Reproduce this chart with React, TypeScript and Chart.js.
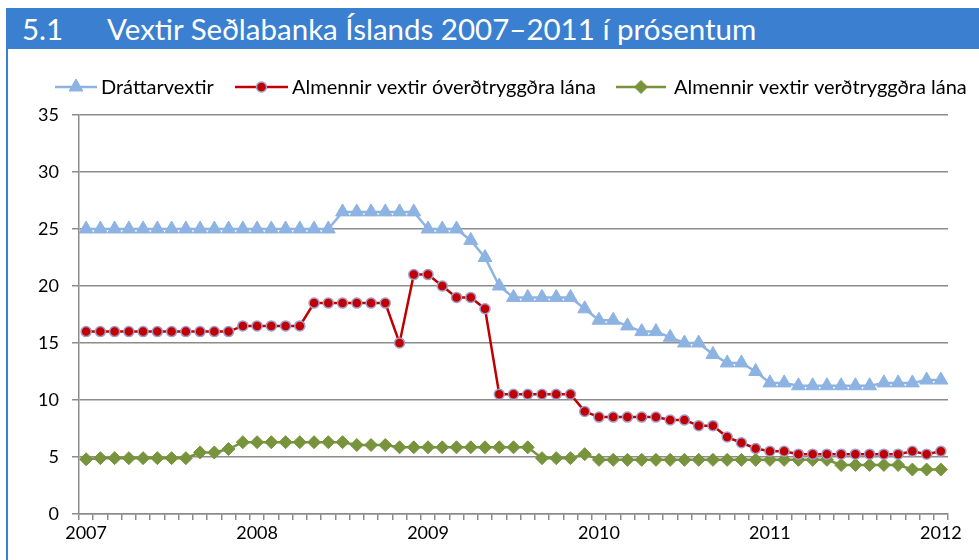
import React, { useEffect, useRef } from 'react';
import { Chart, registerables } from 'chart.js';
import { drawPoint } from 'chart.js/helpers';

Chart.register(...registerables);

// ---- Data ----
const YEARS = [2007, 2008, 2009, 2010, 2011];
const MONTHS: string[] = [];
YEARS.forEach((y) => {
  for (let m = 1; m <= 12; m++) MONTHS.push(`${y}-${String(m).padStart(2, '0')}`);
});
MONTHS.push('2012-01');

const TITLE_NUM = '5.1';
const TITLE_TEXT = 'Vextir Seðlabanka Íslands 2007–2011 í prósentum';

const SERIES_NAMES = [
  'Dráttarvextir',
  'Almennir vextir óverðtryggðra lána',
  'Almennir vextir verðtryggðra lána',
];

const drattarvextir = [
  25, 25, 25, 25, 25, 25, 25, 25, 25, 25, 25, 25,
  25, 25, 25, 25, 25, 25, 26.5, 26.5, 26.5, 26.5, 26.5, 26.5,
  25, 25, 25, 24, 22.5, 20, 19, 19, 19, 19, 19, 18,
  17, 17, 16.5, 16, 16, 15.5, 15, 15, 14, 13.25, 13.25, 12.5,
  11.5, 11.5, 11.25, 11.25, 11.25, 11.25, 11.25, 11.25, 11.5, 11.5, 11.5, 11.75,
  11.75,
];

const overdtryggd = [
  16, 16, 16, 16, 16, 16, 16, 16, 16, 16, 16, 16.5,
  16.5, 16.5, 16.5, 16.5, 18.5, 18.5, 18.5, 18.5, 18.5, 18.5, 15, 21,
  21, 20, 19, 19, 18, 10.5, 10.5, 10.5, 10.5, 10.5, 10.5, 9,
  8.5, 8.5, 8.5, 8.5, 8.5, 8.25, 8.25, 7.75, 7.75, 6.75, 6.25, 5.75,
  5.5, 5.5, 5.25, 5.25, 5.25, 5.25, 5.25, 5.25, 5.25, 5.25, 5.5, 5.25,
  5.5,
];

const verdtryggd = [
  4.8, 4.9, 4.9, 4.9, 4.9, 4.9, 4.9, 4.9, 5.4, 5.4, 5.7, 6.3,
  6.3, 6.3, 6.3, 6.3, 6.3, 6.3, 6.3, 6.05, 6.05, 6.05, 5.85, 5.85,
  5.85, 5.85, 5.85, 5.85, 5.85, 5.85, 5.85, 5.85, 4.9, 4.9, 4.9, 5.25,
  4.75, 4.75, 4.75, 4.75, 4.75, 4.75, 4.75, 4.75, 4.75, 4.75, 4.75, 4.75,
  4.75, 4.75, 4.75, 4.75, 4.75, 4.3, 4.3, 4.3, 4.3, 4.3, 3.9, 3.9,
  3.9,
];

const Y_MIN = 0;
const Y_MAX = 35;
const Y_STEP = 5;

// ---- Styles ----
const BLUE_BAR = '#3a7fd0';
const GRID = '#8c8c8c';
const FONT_FAMILY = 'Lato, "Open Sans", sans-serif';
const LEGEND_FONT_SIZE = 20;
const TICK_FONT_SIZE = 18;
// legend item layout (canvas px): [lineStart, lineEnd, textStart]
const LEGEND_LAYOUT = [
  [47, 89, 93],
  [227, 280, 284],
  [608, 658, 666],
];

const legendPlugin = {
  id: 'xlLegend',
  afterDraw(chart: any) {
    const ctx = chart.ctx as CanvasRenderingContext2D;
    ctx.save();
    ctx.font = `${LEGEND_FONT_SIZE}px ${FONT_FAMILY}`;
    ctx.textBaseline = 'middle';
    ctx.textAlign = 'left';
    const y = 37;
    chart.data.datasets.forEach((ds: any, i: number) => {
      const [x0, x1, tx] = LEGEND_LAYOUT[i];
      ctx.strokeStyle = ds.borderColor;
      ctx.lineWidth = ds.borderWidth;
      ctx.beginPath();
      ctx.moveTo(x0, y);
      ctx.lineTo(x1, y);
      ctx.stroke();
      ctx.fillStyle = ds.pointBackgroundColor;
      ctx.strokeStyle = ds.pointBorderColor;
      ctx.lineWidth = ds.pointBorderWidth;
      drawPoint(
        ctx,
        { pointStyle: ds.pointStyle, radius: ds.pointRadius, borderWidth: ds.pointBorderWidth, rotation: 0 } as any,
        (x0 + x1) / 2,
        y
      );
      ctx.fillStyle = '#000';
      ctx.fillText(ds.label, tx, y + 1);
    });
    ctx.restore();
  },
};

export default function App() {
  const ref = useRef<HTMLCanvasElement | null>(null);

  useEffect(() => {
    document.body.style.margin = '0';
    if (!ref.current) return;
    const chart = new Chart(ref.current, {
      type: 'line',
      data: {
        labels: MONTHS,
        datasets: [
          {
            label: SERIES_NAMES[0],
            data: drattarvextir,
            borderColor: '#8db3e2',
            borderWidth: 2.5,
            pointStyle: 'triangle',
            pointRadius: 8,
            pointBackgroundColor: '#8db3e2',
            pointBorderColor: '#8db3e2',
            pointBorderWidth: 1,
            tension: 0,
          },
          {
            label: SERIES_NAMES[1],
            data: overdtryggd,
            borderColor: '#c00000',
            borderWidth: 2.5,
            pointStyle: 'circle',
            pointRadius: 5,
            pointBackgroundColor: '#c00000',
            pointBorderColor: '#a09ccb',
            pointBorderWidth: 1.5,
            tension: 0,
          },
          {
            label: SERIES_NAMES[2],
            data: verdtryggd,
            borderColor: '#77933c',
            borderWidth: 2.5,
            pointStyle: 'rectRot',
            pointRadius: 6.5,
            pointBackgroundColor: '#77933c',
            pointBorderColor: '#77933c',
            pointBorderWidth: 1,
            tension: 0,
          },
        ],
      },
      options: {
        animation: false,
        responsive: false,
        maintainAspectRatio: false,
        layout: { padding: { top: 65, right: 31, left: 0, bottom: 0 } },
        plugins: {
          legend: { display: false },
          tooltip: { enabled: false },
          title: { display: false },
        },
        scales: {
          x: {
            type: 'category',
            offset: true,
            afterFit: (s: any) => {
              s.height = 46;
            },
            grid: {
              offset: true,
              drawOnChartArea: false,
              drawTicks: true,
              tickLength: 6,
              color: GRID,
              lineWidth: 1.5,
            },
            border: { display: true, color: GRID, width: 1.5 },
            ticks: {
              autoSkip: false,
              maxRotation: 0,
              minRotation: 0,
              padding: 2,
              color: '#000',
              font: { family: FONT_FAMILY, size: TICK_FONT_SIZE },
              callback: (_v: any, i: number) => (MONTHS[i].endsWith('-01') ? MONTHS[i].slice(0, 4) : ''),
            },
          },
          y: {
            min: Y_MIN,
            max: Y_MAX,
            afterFit: (s: any) => {
              s.width = 71;
            },
            grid: {
              color: GRID,
              lineWidth: 1.5,
              drawTicks: true,
              tickLength: 7,
            },
            border: { display: true, color: GRID, width: 1.5 },
            ticks: {
              stepSize: Y_STEP,
              padding: 13,
              color: '#000',
              font: { family: FONT_FAMILY, size: TICK_FONT_SIZE },
            },
          },
        },
      },
      plugins: [legendPlugin],
    });
    return () => chart.destroy();
  }, []);

  return (
    <div style={{ position: 'relative', width: 979, height: 560, background: '#fff', overflow: 'hidden', fontFamily: FONT_FAMILY }}>
      <div
        style={{
          position: 'absolute',
          left: 6,
          top: 8,
          width: 973,
          height: 41,
          background: BLUE_BAR,
          color: '#fff',
          fontSize: 29.5,
          lineHeight: '41px',
        }}
      >
        <span style={{ position: 'absolute', left: 16 }}>{TITLE_NUM}</span>
        <span style={{ position: 'absolute', left: 101 }}>{TITLE_TEXT}</span>
      </div>
      <div style={{ position: 'absolute', left: 6, top: 49, width: 2, height: 511, background: BLUE_BAR }} />
      <canvas
        ref={ref}
        width={971}
        height={510}
        style={{ position: 'absolute', left: 8, top: 50, width: 971, height: 510 }}
      />
    </div>
  );
}
